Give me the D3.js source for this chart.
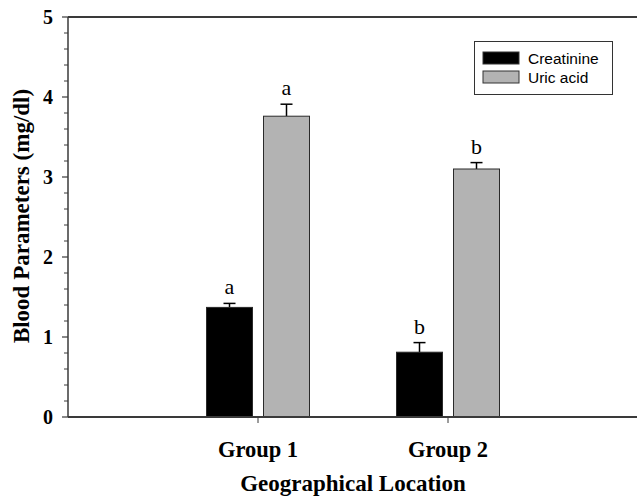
<!DOCTYPE html>
<html>
<head>
<meta charset="utf-8">
<script src="https://cdn.jsdelivr.net/npm/d3@7"></script>
<style>
  html, body { margin: 0; padding: 0; background: #fff; }
  svg { display: block; }
</style>
</head>
<body>
<svg id="chart" width="637" height="496"></svg>
<script>
// ---- Data ----
const groups = ["Group 1", "Group 2"];
const series = ["Creatinine", "Uric acid"];
const creatinine = [1.37, 0.81];
const creatinineErr = [0.05, 0.12];
const uricAcid = [3.76, 3.10];
const uricAcidErr = [0.15, 0.08];
const creatinineLetters = ["a", "b"];
const uricAcidLetters = ["a", "b"];
const yTicks = [0, 1, 2, 3, 4, 5];
const yTitle = "Blood Parameters (mg/dl)";
const xTitle = "Geographical Location";

const seriesData = [
  { name: series[0], values: creatinine, errs: creatinineErr, letters: creatinineLetters, fill: "#000000" },
  { name: series[1], values: uricAcid, errs: uricAcidErr, letters: uricAcidLetters, fill: "#b3b3b3" }
];

const svg = d3.select("#chart");
const axisColor = "#3a3a3a";

// scales
const x = d3.scaleLinear().domain([0, groups.length + 1]).range([68, 638]);
const xSub = d3.scaleBand().domain(series).range([-51.5, 51.5]).paddingInner(0.193).paddingOuter(0);
const y = d3.scaleLinear().domain([0, 5]).range([417, 17]);

// top frame line
svg.append("line")
  .attr("x1", x(0)).attr("x2", 637)
  .attr("y1", y(5)).attr("y2", y(5))
  .attr("stroke", axisColor).attr("stroke-width", 2);

// bars
seriesData.forEach(s => {
  const g = svg.append("g");
  s.values.forEach((v, i) => {
    const bx = x(i + 1) + xSub(s.name);
    const bw = xSub.bandwidth();
    // error bar
    const cx = bx + bw / 2;
    g.append("line")
      .attr("x1", cx).attr("x2", cx)
      .attr("y1", y(v)).attr("y2", y(v + s.errs[i]))
      .attr("stroke", "#000").attr("stroke-width", 1.5);
    g.append("line")
      .attr("x1", cx - 6).attr("x2", cx + 6)
      .attr("y1", y(v + s.errs[i])).attr("y2", y(v + s.errs[i]))
      .attr("stroke", "#000").attr("stroke-width", 1.5);
    g.append("rect")
      .attr("x", bx).attr("y", y(v))
      .attr("width", bw).attr("height", y(0) - y(v))
      .attr("fill", s.fill)
      .attr("stroke", "#2a2a2a").attr("stroke-width", 1);
    g.append("text")
      .attr("x", cx).attr("y", y(v + s.errs[i]) - 9)
      .attr("text-anchor", "middle")
      .attr("font-family", "'Liberation Serif', 'Times New Roman', serif")
      .attr("font-size", 22)
      .attr("fill", "#000")
      .text(s.letters[i]);
  });
});

// y axis
const minorTicks = d3.range(0, 5.0001, 0.2).filter(t => Math.abs(t - Math.round(t)) > 1e-6);
const yAxis = svg.append("g").attr("transform", `translate(${x(0)},0)`);
yAxis.append("line")
  .attr("x1", 0).attr("x2", 0).attr("y1", y(5)).attr("y2", y(0))
  .attr("stroke", axisColor).attr("stroke-width", 1.5);
yAxis.selectAll(".minor").data(minorTicks).enter().append("line")
  .attr("x1", -4).attr("x2", 0)
  .attr("y1", d => y(d)).attr("y2", d => y(d))
  .attr("stroke", axisColor).attr("stroke-width", 1);
yAxis.selectAll(".major").data(yTicks).enter().append("line")
  .attr("x1", -6).attr("x2", 0)
  .attr("y1", d => y(d)).attr("y2", d => y(d))
  .attr("stroke", axisColor).attr("stroke-width", 1.2);
yAxis.selectAll(".lbl").data(yTicks).enter().append("text")
  .attr("x", -15).attr("y", d => y(d))
  .attr("dy", "0.34em")
  .attr("text-anchor", "end")
  .attr("font-family", "'Liberation Serif', 'Times New Roman', serif")
  .attr("font-weight", "bold")
  .attr("font-size", 20)
  .attr("fill", "#000")
  .text(d => d);

// x axis
const xAxis = svg.append("g");
xAxis.append("line")
  .attr("x1", x(0)).attr("x2", 637)
  .attr("y1", y(0)).attr("y2", y(0))
  .attr("stroke", axisColor).attr("stroke-width", 2);
xAxis.selectAll(".xt").data(groups).enter().append("line")
  .attr("x1", (d, i) => x(i + 1)).attr("x2", (d, i) => x(i + 1))
  .attr("y1", y(0)).attr("y2", y(0) + 6)
  .attr("stroke", axisColor).attr("stroke-width", 1);
xAxis.selectAll(".xl").data(groups).enter().append("text")
  .attr("x", (d, i) => x(i + 1)).attr("y", 457)
  .attr("text-anchor", "middle")
  .attr("font-family", "'Liberation Serif', 'Times New Roman', serif")
  .attr("font-weight", "bold")
  .attr("font-size", 22.5)
  .attr("fill", "#000")
  .text(d => d);

// titles
svg.append("text")
  .attr("x", 353).attr("y", 491)
  .attr("text-anchor", "middle")
  .attr("font-family", "'Liberation Serif', 'Times New Roman', serif")
  .attr("font-weight", "bold")
  .attr("font-size", 23)
  .attr("fill", "#000")
  .text(xTitle);
svg.append("text")
  .attr("transform", "translate(28.5,216) rotate(-90)")
  .attr("text-anchor", "middle")
  .attr("font-family", "'Liberation Serif', 'Times New Roman', serif")
  .attr("font-weight", "bold")
  .attr("font-size", 23)
  .attr("fill", "#000")
  .text(yTitle);

// legend
const lg = svg.append("g");
lg.append("rect")
  .attr("x", 474.5).attr("y", 41.5).attr("width", 138).attr("height", 53)
  .attr("fill", "#fff").attr("stroke", "#333").attr("stroke-width", 1);
seriesData.forEach((s, i) => {
  const cy = 58 + i * 19;
  lg.append("rect")
    .attr("x", 483).attr("y", cy - 6).attr("width", 36).attr("height", 12)
    .attr("fill", s.fill).attr("stroke", "#333").attr("stroke-width", 1);
  lg.append("text")
    .attr("x", 528).attr("y", cy).attr("dy", "0.36em")
    .attr("font-family", "'Liberation Sans', Arial, sans-serif")
    .attr("font-size", 15.5)
    .attr("fill", "#000")
    .text(s.name);
});
</script>
</body>
</html>
